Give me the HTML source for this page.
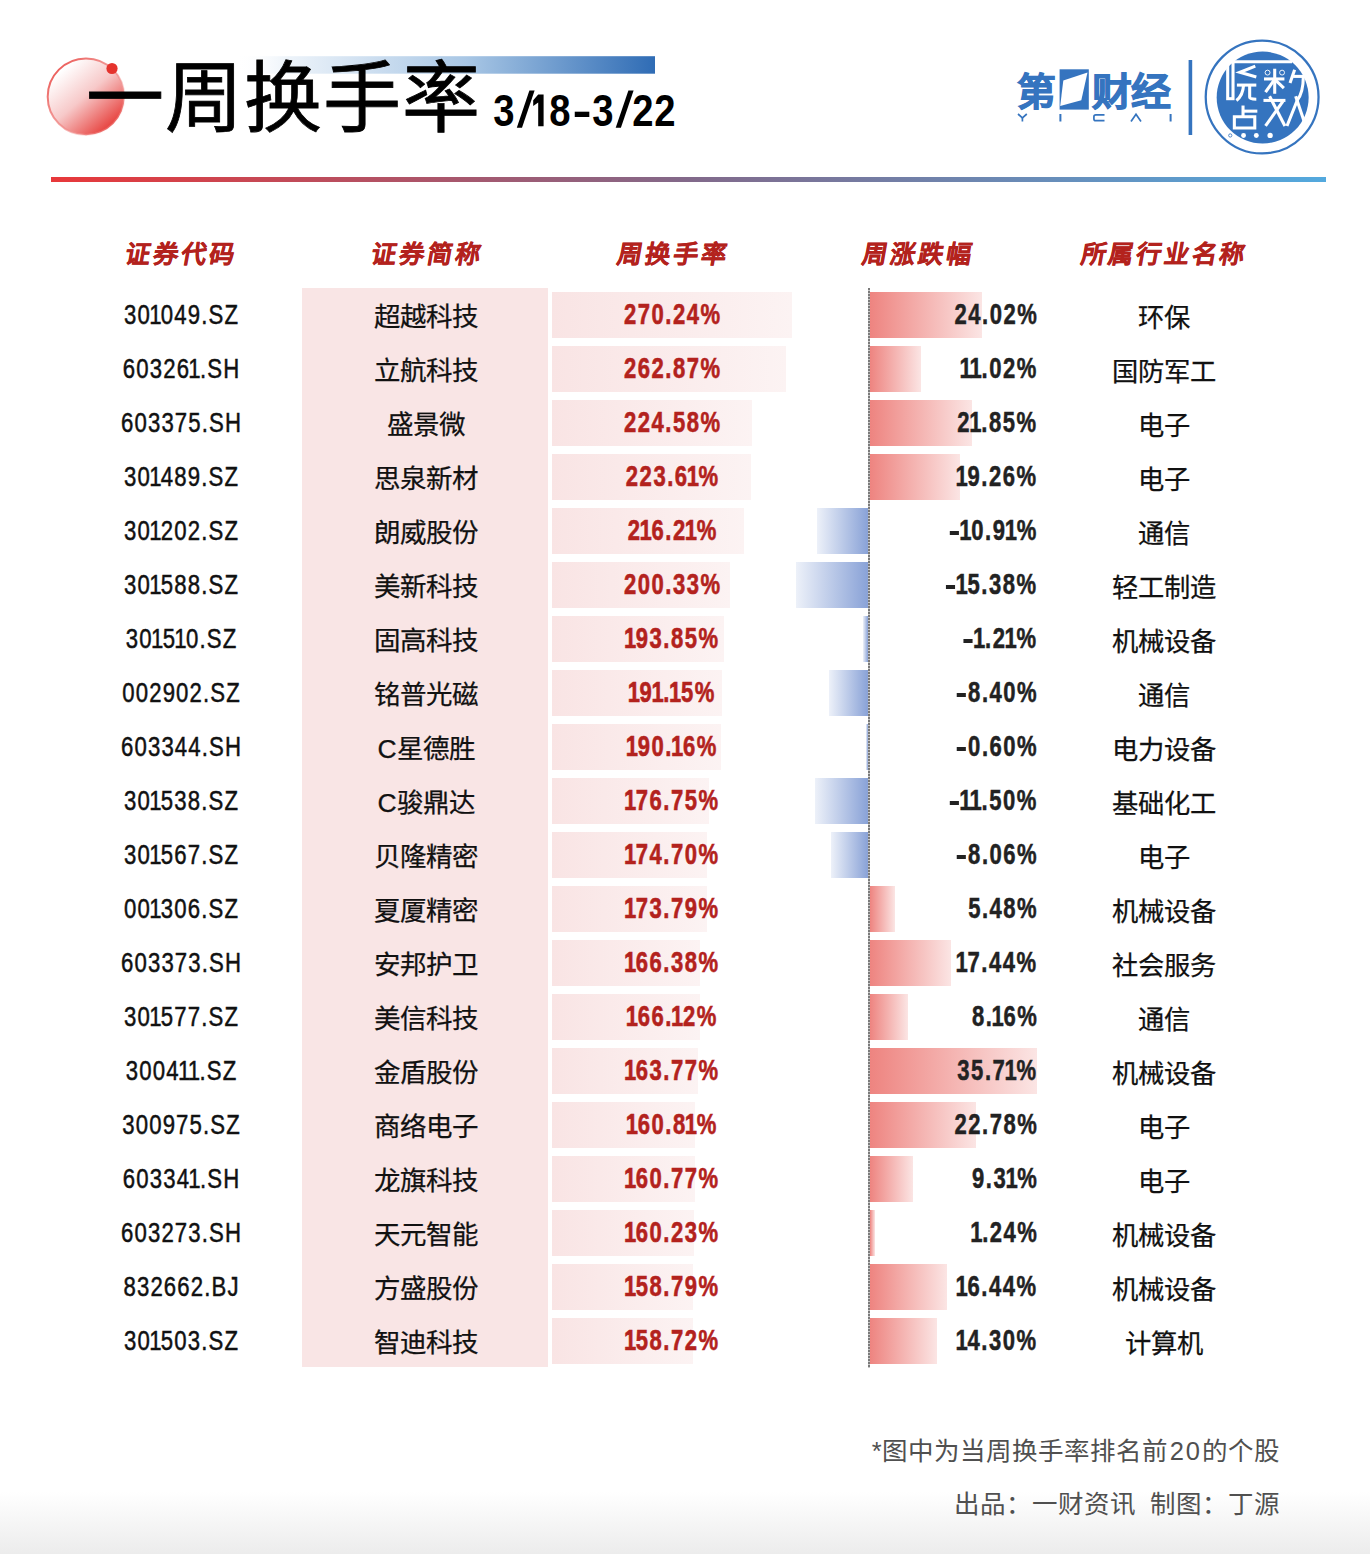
<!DOCTYPE html><html lang="zh-CN"><head><meta charset="utf-8"><style>
*{margin:0;padding:0;box-sizing:border-box}
html,body{width:1370px;height:1554px;overflow:hidden;background:#fff}
body{position:relative;font-family:"Liberation Sans",sans-serif;color:#000}
.abs{position:absolute}
.t{position:absolute;white-space:nowrap;line-height:1}
.c{transform:translateX(-50%)}
.code{font-size:27px;color:#111;-webkit-text-stroke:0.5px #111}
.code span{display:inline-block;transform:scaleX(0.82);transform-origin:center;letter-spacing:1.4px;padding-left:1.4px}
.name{font-size:26.5px;color:#111;-webkit-text-stroke:0.25px #111}
.turn{font-size:29px;font-weight:bold;color:#b3221d;-webkit-text-stroke:0.6px #b3221d}
.turn span{display:inline-block;transform:scaleX(0.76);transform-origin:center;letter-spacing:2px;padding-left:2px}
.chg{font-size:29px;font-weight:bold;color:#222;-webkit-text-stroke:0.5px #222}
.chg span{display:inline-block;transform:scaleX(0.76);transform-origin:right center;letter-spacing:2px;margin-right:-2px}
.ind{font-size:26.3px;color:#111;-webkit-text-stroke:0.25px #111}
.hd{font-size:25px;font-weight:bold;color:#b3221d;-webkit-text-stroke:0.4px #b3221d}
.hd span{display:inline-block;transform:skewX(-10deg);letter-spacing:2.7px;padding-left:2.7px}
.tb{position:absolute;height:46px;left:552px;background:linear-gradient(90deg,#f9e4e4 0%,#fcf3f3 100%)}
.pb{position:absolute;height:46px;left:869.5px;background:linear-gradient(90deg,#ee8480,#fbe5e4)}
.nb{position:absolute;height:46px;background:linear-gradient(90deg,#edf1f9,#89a2d7)}
</style></head><body>
<div class="abs" style="left:0;top:1492px;width:1370px;height:62px;background:linear-gradient(180deg,#fff,#ececec)"></div>
<svg class="abs" style="left:0;top:0" width="700" height="170" viewBox="0 0 700 170">
<defs>
<linearGradient id="cg" x1="0.2" y1="0.15" x2="0.85" y2="0.9"><stop offset="0" stop-color="#fff"/><stop offset="0.45" stop-color="#f7c9c9"/><stop offset="1" stop-color="#e63a36"/></linearGradient>
<linearGradient id="bg" x1="0" y1="0" x2="1" y2="0"><stop offset="0" stop-color="#fff" stop-opacity="0"/><stop offset="0.12" stop-color="#eef4fa"/><stop offset="0.55" stop-color="#a9c7e5"/><stop offset="1" stop-color="#2f6cb5"/></linearGradient>
<linearGradient id="sg" x1="0" y1="0" x2="1" y2="1"><stop offset="0" stop-color="#e8403c"/><stop offset="0.6" stop-color="#f08a88" stop-opacity="0.6"/><stop offset="1" stop-color="#fff" stop-opacity="0"/></linearGradient>
</defs>
<rect x="235" y="56.2" width="420" height="17.5" fill="url(#bg)"/>
<circle cx="86" cy="96.7" r="38.6" fill="url(#cg)"/>
<circle cx="86" cy="96.7" r="38.3" fill="none" stroke="url(#sg)" stroke-width="2"/>
<circle cx="112" cy="68.5" r="5.6" fill="#e5332d"/>
</svg>
<div class="t" style="left:86px;top:60px;font-size:78px;color:#000;-webkit-text-stroke:0.8px #000;letter-spacing:1px">一周换手率</div>
<div class="t" style="left:504.2px;top:88px;font-size:45px;font-weight:bold;color:#000;transform:translateX(-50%) scaleX(0.85)">3</div>
<div class="t" style="left:559.9px;top:88px;font-size:45px;font-weight:bold;color:#000;transform:translateX(-50%) scaleX(0.85)">8</div>
<div class="t" style="left:581.7px;top:88px;font-size:45px;font-weight:bold;color:#000;transform:translateX(-50%) scaleX(1.275)">-</div>
<div class="t" style="left:603.3px;top:88px;font-size:45px;font-weight:bold;color:#000;transform:translateX(-50%) scaleX(0.85)">3</div>
<div class="t" style="left:642.5px;top:88px;font-size:45px;font-weight:bold;color:#000;transform:translateX(-50%) scaleX(0.85)">2</div>
<div class="t" style="left:664.5px;top:88px;font-size:45px;font-weight:bold;color:#000;transform:translateX(-50%) scaleX(0.85)">2</div>
<svg class="abs" style="left:0;top:0" width="700" height="140"><g fill="#000"><polygon points="516.8,127.8 522,127.8 534.6,90.5 529.4,90.5"/><polygon points="615.7,127.8 620.9,127.8 633.6,90.5 628.4,90.5"/><polygon points="538.2,94.5 543.6,94.5 543.6,126.3 538.2,126.3 538.2,102.5 533.2,106 533.2,100.3"/></g></svg>
<div class="abs" style="left:51px;top:177px;width:1275px;height:5px;background:linear-gradient(90deg,#e8383a,#82698a 50%,#53a9de)"></div>
<svg class="abs" style="left:1000px;top:30px" width="340" height="140" viewBox="1000 30 340 140">
<g fill="#3574bf">
<rect x="1059.6" y="69.3" width="29.2" height="40.3"/>
</g>
<polygon points="1063.3,80.5 1087.5,72.4 1081.3,100.3 1060.2,105.9" fill="#fff"/>
<g stroke="#3574bf" stroke-width="1.7" fill="none" stroke-linejoin="miter">
<polyline points="1018,114 1022.4,117.8 1026.8,114"/>
<line x1="1022.4" y1="117.6" x2="1022.4" y2="121.5"/>
<path d="M1104.5,114.9 H1095.8 Q1093.9,114.9 1093.9,116.7 V118.9 Q1093.9,120.6 1095.8,120.6 H1104.5"/>
<polyline points="1131,121.5 1136,114.3 1141,121.5"/>
</g>
<rect x="1059.4" y="114" width="2" height="7.5" fill="#3574bf"/>
<rect x="1169.6" y="114" width="2" height="7.5" fill="#3574bf"/>
<rect x="1188.6" y="60" width="3.6" height="75" fill="#3574bf"/>
</svg>
<div class="t" style="left:1017px;top:73px;font-size:38px;font-weight:bold;color:#3574bf;-webkit-text-stroke:1px #3574bf"><span style="display:inline-block;transform:scaleX(1.02);transform-origin:left top">第</span></div>
<div class="t" style="left:1092px;top:73px;font-size:38px;font-weight:bold;color:#3574bf;-webkit-text-stroke:1px #3574bf"><span style="display:inline-block;transform:scaleX(1.05);transform-origin:left top;letter-spacing:-1px">财经</span></div>
<svg class="abs" style="left:1195px;top:35px" width="140" height="125" viewBox="0 0 1370 1223">
<circle cx="657" cy="607" r="552" fill="none" stroke="#3574bf" stroke-width="22"/>
<circle cx="662" cy="612" r="450" fill="#3574bf"/>
<g stroke="#fff" stroke-width="30" fill="none" stroke-linecap="butt">
<rect x="320" y="258" width="52" height="365"/>
<line x1="320" y1="262" x2="950" y2="262"/>
<polyline points="590,305 440,365 600,410"/>
<line x1="410" y1="490" x2="600" y2="490"/>
<path d="M475,490 Q470,590 405,640"/>
<path d="M535,490 V610 Q535,628 600,628"/>
<line x1="470" y1="690" x2="470" y2="810"/>
<line x1="470" y1="745" x2="610" y2="745"/>
<path d="M385,800 V910 H585 V800 Z"/>
<line x1="780" y1="330" x2="780" y2="575"/>
<line x1="675" y1="430" x2="875" y2="430"/>
<line x1="775" y1="440" x2="690" y2="560"/>
<line x1="785" y1="440" x2="870" y2="520"/>
<line x1="670" y1="640" x2="885" y2="640"/>
<line x1="730" y1="600" x2="880" y2="890"/>
<line x1="860" y1="650" x2="690" y2="890"/>
<line x1="975" y1="340" x2="930" y2="470"/>
<line x1="960" y1="405" x2="1095" y2="405"/>
<path d="M1060,405 Q1060,560 1000,640 L900,890"/>
<line x1="985" y1="600" x2="1080" y2="880"/>
</g>
<g stroke="#fff" stroke-width="9" fill="none">
<circle cx="710" cy="368" r="24"/>
<circle cx="852" cy="368" r="24"/>
</g>
<g fill="#fff">
<circle cx="345" cy="983" r="16" stroke="#3574bf" stroke-width="8"/>
<circle cx="475" cy="983" r="24"/>
<circle cx="600" cy="983" r="24"/>
<circle cx="735" cy="983" r="26"/>
</g>
</svg>

<div class="t hd c" style="left:180px;top:242px"><span>证券代码</span></div>
<div class="t hd c" style="left:426px;top:242px"><span>证券简称</span></div>
<div class="t hd c" style="left:672px;top:242px"><span>周换手率</span></div>
<div class="t hd c" style="left:917px;top:242px"><span>周涨跌幅</span></div>
<div class="t hd c" style="left:1163px;top:242px"><span>所属行业名称</span></div>
<div class="abs" style="left:302px;top:288px;width:246px;height:1079px;background:#f9e5e5"></div>
<div class="abs" style="left:868.0px;top:288px;width:1.5px;height:1080px;background:repeating-linear-gradient(180deg,#7a7a7a 0 2px,#c8c8c8 2px 3px)"></div>
<div class="tb" style="top:292px;width:240.2px"></div>
<div class="pb" style="top:292px;width:112.7px"></div>
<div class="t code c" style="left:181px;top:302px"><span>30<b style="font-weight:inherit;margin:0 -2.2px">1</b>049.SZ</span></div>
<div class="t name c" style="left:426px;top:304px">超越科技</div>
<div class="t turn c" style="left:672px;top:300px"><span>270.24%</span></div>
<div class="t chg" style="right:334px;top:300px"><span>24.02%</span></div>
<div class="t ind c" style="left:1163.5px;top:304.5px">环保</div>
<div class="tb" style="top:346px;width:233.7px"></div>
<div class="pb" style="top:346px;width:51.7px"></div>
<div class="t code c" style="left:181px;top:356px"><span>60326<b style="font-weight:inherit;margin:0 -2.2px">1</b>.SH</span></div>
<div class="t name c" style="left:426px;top:358px">立航科技</div>
<div class="t turn c" style="left:672px;top:354px"><span>262.87%</span></div>
<div class="t chg" style="right:334px;top:354px"><span><b style="font-weight:inherit;margin:0 -2.4px">1</b><b style="font-weight:inherit;margin:0 -2.4px">1</b>.02%</span></div>
<div class="t ind c" style="left:1163.5px;top:358.5px">国防军工</div>
<div class="tb" style="top:400px;width:199.7px"></div>
<div class="pb" style="top:400px;width:102.5px"></div>
<div class="t code c" style="left:181px;top:410px"><span>603375.SH</span></div>
<div class="t name c" style="left:426px;top:412px">盛景微</div>
<div class="t turn c" style="left:672px;top:408px"><span>224.58%</span></div>
<div class="t chg" style="right:334px;top:408px"><span>2<b style="font-weight:inherit;margin:0 -2.4px">1</b>.85%</span></div>
<div class="t ind c" style="left:1163.5px;top:412.5px">电子</div>
<div class="tb" style="top:454px;width:198.8px"></div>
<div class="pb" style="top:454px;width:90.3px"></div>
<div class="t code c" style="left:181px;top:464px"><span>30<b style="font-weight:inherit;margin:0 -2.2px">1</b>489.SZ</span></div>
<div class="t name c" style="left:426px;top:466px">思泉新材</div>
<div class="t turn c" style="left:672px;top:462px"><span>223.6<b style="font-weight:inherit;margin:0 -2.5px">1</b>%</span></div>
<div class="t chg" style="right:334px;top:462px"><span><b style="font-weight:inherit;margin:0 -2.4px">1</b>9.26%</span></div>
<div class="t ind c" style="left:1163.5px;top:466.5px">电子</div>
<div class="tb" style="top:508px;width:192.2px"></div>
<div class="nb" style="top:508px;left:817.3px;width:51.2px"></div>
<div class="t code c" style="left:181px;top:518px"><span>30<b style="font-weight:inherit;margin:0 -2.2px">1</b>202.SZ</span></div>
<div class="t name c" style="left:426px;top:520px">朗威股份</div>
<div class="t turn c" style="left:672px;top:516px"><span>2<b style="font-weight:inherit;margin:0 -2.5px">1</b>6.2<b style="font-weight:inherit;margin:0 -2.5px">1</b>%</span></div>
<div class="t chg" style="right:334px;top:516px"><span><i style="display:inline-block;width:11.8px;height:4px;background:#222;position:relative;top:-5.3px;margin-right:3.2px"></i><b style="font-weight:inherit;margin:0 -2.4px">1</b>0.9<b style="font-weight:inherit;margin:0 -2.4px">1</b>%</span></div>
<div class="t ind c" style="left:1163.5px;top:520.5px">通信</div>
<div class="tb" style="top:562px;width:178.1px"></div>
<div class="nb" style="top:562px;left:796.4px;width:72.1px"></div>
<div class="t code c" style="left:181px;top:572px"><span>30<b style="font-weight:inherit;margin:0 -2.2px">1</b>588.SZ</span></div>
<div class="t name c" style="left:426px;top:574px">美新科技</div>
<div class="t turn c" style="left:672px;top:570px"><span>200.33%</span></div>
<div class="t chg" style="right:334px;top:570px"><span><i style="display:inline-block;width:11.8px;height:4px;background:#222;position:relative;top:-5.3px;margin-right:3.2px"></i><b style="font-weight:inherit;margin:0 -2.4px">1</b>5.38%</span></div>
<div class="t ind c" style="left:1163.5px;top:574.5px">轻工制造</div>
<div class="tb" style="top:616px;width:172.3px"></div>
<div class="nb" style="top:616px;left:862.8px;width:5.7px"></div>
<div class="t code c" style="left:181px;top:626px"><span>30<b style="font-weight:inherit;margin:0 -2.2px">1</b>5<b style="font-weight:inherit;margin:0 -2.2px">1</b>0.SZ</span></div>
<div class="t name c" style="left:426px;top:628px">固高科技</div>
<div class="t turn c" style="left:672px;top:624px"><span><b style="font-weight:inherit;margin:0 -2.5px">1</b>93.85%</span></div>
<div class="t chg" style="right:334px;top:624px"><span><i style="display:inline-block;width:11.8px;height:4px;background:#222;position:relative;top:-5.3px;margin-right:3.2px"></i><b style="font-weight:inherit;margin:0 -2.4px">1</b>.2<b style="font-weight:inherit;margin:0 -2.4px">1</b>%</span></div>
<div class="t ind c" style="left:1163.5px;top:628.5px">机械设备</div>
<div class="tb" style="top:670px;width:169.9px"></div>
<div class="nb" style="top:670px;left:829.1px;width:39.4px"></div>
<div class="t code c" style="left:181px;top:680px"><span>002902.SZ</span></div>
<div class="t name c" style="left:426px;top:682px">铭普光磁</div>
<div class="t turn c" style="left:672px;top:678px"><span><b style="font-weight:inherit;margin:0 -2.5px">1</b>9<b style="font-weight:inherit;margin:0 -2.5px">1</b>.<b style="font-weight:inherit;margin:0 -2.5px">1</b>5%</span></div>
<div class="t chg" style="right:334px;top:678px"><span><i style="display:inline-block;width:11.8px;height:4px;background:#222;position:relative;top:-5.3px;margin-right:3.2px"></i>8.40%</span></div>
<div class="t ind c" style="left:1163.5px;top:682.5px">通信</div>
<div class="tb" style="top:724px;width:169.1px"></div>
<div class="nb" style="top:724px;left:865.7px;width:2.8px"></div>
<div class="t code c" style="left:181px;top:734px"><span>603344.SH</span></div>
<div class="t name c" style="left:426px;top:736px">C星德胜</div>
<div class="t turn c" style="left:672px;top:732px"><span><b style="font-weight:inherit;margin:0 -2.5px">1</b>90.<b style="font-weight:inherit;margin:0 -2.5px">1</b>6%</span></div>
<div class="t chg" style="right:334px;top:732px"><span><i style="display:inline-block;width:11.8px;height:4px;background:#222;position:relative;top:-5.3px;margin-right:3.2px"></i>0.60%</span></div>
<div class="t ind c" style="left:1163.5px;top:736.5px">电力设备</div>
<div class="tb" style="top:778px;width:157.1px"></div>
<div class="nb" style="top:778px;left:814.6px;width:53.9px"></div>
<div class="t code c" style="left:181px;top:788px"><span>30<b style="font-weight:inherit;margin:0 -2.2px">1</b>538.SZ</span></div>
<div class="t name c" style="left:426px;top:790px">C骏鼎达</div>
<div class="t turn c" style="left:672px;top:786px"><span><b style="font-weight:inherit;margin:0 -2.5px">1</b>76.75%</span></div>
<div class="t chg" style="right:334px;top:786px"><span><i style="display:inline-block;width:11.8px;height:4px;background:#222;position:relative;top:-5.3px;margin-right:3.2px"></i><b style="font-weight:inherit;margin:0 -2.4px">1</b><b style="font-weight:inherit;margin:0 -2.4px">1</b>.50%</span></div>
<div class="t ind c" style="left:1163.5px;top:790.5px">基础化工</div>
<div class="tb" style="top:832px;width:155.3px"></div>
<div class="nb" style="top:832px;left:830.7px;width:37.8px"></div>
<div class="t code c" style="left:181px;top:842px"><span>30<b style="font-weight:inherit;margin:0 -2.2px">1</b>567.SZ</span></div>
<div class="t name c" style="left:426px;top:844px">贝隆精密</div>
<div class="t turn c" style="left:672px;top:840px"><span><b style="font-weight:inherit;margin:0 -2.5px">1</b>74.70%</span></div>
<div class="t chg" style="right:334px;top:840px"><span><i style="display:inline-block;width:11.8px;height:4px;background:#222;position:relative;top:-5.3px;margin-right:3.2px"></i>8.06%</span></div>
<div class="t ind c" style="left:1163.5px;top:844.5px">电子</div>
<div class="tb" style="top:886px;width:154.5px"></div>
<div class="pb" style="top:886px;width:25.7px"></div>
<div class="t code c" style="left:181px;top:896px"><span>00<b style="font-weight:inherit;margin:0 -2.2px">1</b>306.SZ</span></div>
<div class="t name c" style="left:426px;top:898px">夏厦精密</div>
<div class="t turn c" style="left:672px;top:894px"><span><b style="font-weight:inherit;margin:0 -2.5px">1</b>73.79%</span></div>
<div class="t chg" style="right:334px;top:894px"><span>5.48%</span></div>
<div class="t ind c" style="left:1163.5px;top:898.5px">机械设备</div>
<div class="tb" style="top:940px;width:147.9px"></div>
<div class="pb" style="top:940px;width:81.8px"></div>
<div class="t code c" style="left:181px;top:950px"><span>603373.SH</span></div>
<div class="t name c" style="left:426px;top:952px">安邦护卫</div>
<div class="t turn c" style="left:672px;top:948px"><span><b style="font-weight:inherit;margin:0 -2.5px">1</b>66.38%</span></div>
<div class="t chg" style="right:334px;top:948px"><span><b style="font-weight:inherit;margin:0 -2.4px">1</b>7.44%</span></div>
<div class="t ind c" style="left:1163.5px;top:952.5px">社会服务</div>
<div class="tb" style="top:994px;width:147.7px"></div>
<div class="pb" style="top:994px;width:38.3px"></div>
<div class="t code c" style="left:181px;top:1004px"><span>30<b style="font-weight:inherit;margin:0 -2.2px">1</b>577.SZ</span></div>
<div class="t name c" style="left:426px;top:1006px">美信科技</div>
<div class="t turn c" style="left:672px;top:1002px"><span><b style="font-weight:inherit;margin:0 -2.5px">1</b>66.<b style="font-weight:inherit;margin:0 -2.5px">1</b>2%</span></div>
<div class="t chg" style="right:334px;top:1002px"><span>8.<b style="font-weight:inherit;margin:0 -2.4px">1</b>6%</span></div>
<div class="t ind c" style="left:1163.5px;top:1006.5px">通信</div>
<div class="tb" style="top:1048px;width:145.6px"></div>
<div class="pb" style="top:1048px;width:167.5px"></div>
<div class="t code c" style="left:181px;top:1058px"><span>3004<b style="font-weight:inherit;margin:0 -2.2px">1</b><b style="font-weight:inherit;margin:0 -2.2px">1</b>.SZ</span></div>
<div class="t name c" style="left:426px;top:1060px">金盾股份</div>
<div class="t turn c" style="left:672px;top:1056px"><span><b style="font-weight:inherit;margin:0 -2.5px">1</b>63.77%</span></div>
<div class="t chg" style="right:334px;top:1056px"><span>35.7<b style="font-weight:inherit;margin:0 -2.4px">1</b>%</span></div>
<div class="t ind c" style="left:1163.5px;top:1060.5px">机械设备</div>
<div class="tb" style="top:1102px;width:143.0px"></div>
<div class="pb" style="top:1102px;width:106.8px"></div>
<div class="t code c" style="left:181px;top:1112px"><span>300975.SZ</span></div>
<div class="t name c" style="left:426px;top:1114px">商络电子</div>
<div class="t turn c" style="left:672px;top:1110px"><span><b style="font-weight:inherit;margin:0 -2.5px">1</b>60.8<b style="font-weight:inherit;margin:0 -2.5px">1</b>%</span></div>
<div class="t chg" style="right:334px;top:1110px"><span>22.78%</span></div>
<div class="t ind c" style="left:1163.5px;top:1114.5px">电子</div>
<div class="tb" style="top:1156px;width:142.9px"></div>
<div class="pb" style="top:1156px;width:43.7px"></div>
<div class="t code c" style="left:181px;top:1166px"><span>60334<b style="font-weight:inherit;margin:0 -2.2px">1</b>.SH</span></div>
<div class="t name c" style="left:426px;top:1168px">龙旗科技</div>
<div class="t turn c" style="left:672px;top:1164px"><span><b style="font-weight:inherit;margin:0 -2.5px">1</b>60.77%</span></div>
<div class="t chg" style="right:334px;top:1164px"><span>9.3<b style="font-weight:inherit;margin:0 -2.4px">1</b>%</span></div>
<div class="t ind c" style="left:1163.5px;top:1168.5px">电子</div>
<div class="tb" style="top:1210px;width:142.4px"></div>
<div class="pb" style="top:1210px;width:5.8px"></div>
<div class="t code c" style="left:181px;top:1220px"><span>603273.SH</span></div>
<div class="t name c" style="left:426px;top:1222px">天元智能</div>
<div class="t turn c" style="left:672px;top:1218px"><span><b style="font-weight:inherit;margin:0 -2.5px">1</b>60.23%</span></div>
<div class="t chg" style="right:334px;top:1218px"><span><b style="font-weight:inherit;margin:0 -2.4px">1</b>.24%</span></div>
<div class="t ind c" style="left:1163.5px;top:1222.5px">机械设备</div>
<div class="tb" style="top:1264px;width:141.2px"></div>
<div class="pb" style="top:1264px;width:77.1px"></div>
<div class="t code c" style="left:181px;top:1274px"><span>832662.BJ</span></div>
<div class="t name c" style="left:426px;top:1276px">方盛股份</div>
<div class="t turn c" style="left:672px;top:1272px"><span><b style="font-weight:inherit;margin:0 -2.5px">1</b>58.79%</span></div>
<div class="t chg" style="right:334px;top:1272px"><span><b style="font-weight:inherit;margin:0 -2.4px">1</b>6.44%</span></div>
<div class="t ind c" style="left:1163.5px;top:1276.5px">机械设备</div>
<div class="tb" style="top:1318px;width:141.1px"></div>
<div class="pb" style="top:1318px;width:67.1px"></div>
<div class="t code c" style="left:181px;top:1328px"><span>30<b style="font-weight:inherit;margin:0 -2.2px">1</b>503.SZ</span></div>
<div class="t name c" style="left:426px;top:1330px">智迪科技</div>
<div class="t turn c" style="left:672px;top:1326px"><span><b style="font-weight:inherit;margin:0 -2.5px">1</b>58.72%</span></div>
<div class="t chg" style="right:334px;top:1326px"><span><b style="font-weight:inherit;margin:0 -2.4px">1</b>4.30%</span></div>
<div class="t ind c" style="left:1163.5px;top:1330.5px">计算机</div>
<div class="t" style="right:90px;top:1438.5px;font-size:25.5px;color:#505050">*图中为当周换手率排名前<span style="letter-spacing:2px;padding-left:2px">20</span>的个股</div>
<div class="t" style="right:90px;top:1491.5px;font-size:25.5px;color:#505050">出品：一财资讯&nbsp;&nbsp;制图：丁源</div>
</body></html>
